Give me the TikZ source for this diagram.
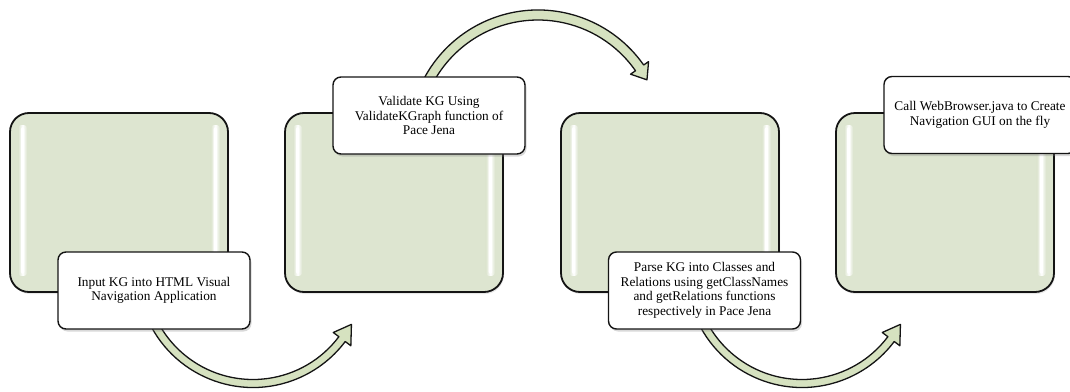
\documentclass[tikz,border=0pt]{standalone}
\usepackage{fontspec}
\setmainfont{Liberation Serif}
\usetikzlibrary{calc,shadows}

\definecolor{panelgreen}{RGB}{221,229,208}
\definecolor{bandgreen}{RGB}{214,226,192}
\definecolor{inkline}{RGB}{20,20,20}

\tikzset{
  panel/.style={draw=inkline, line width=1.8pt, fill=panelgreen, rounded corners=19pt,
    minimum width=218pt, minimum height=179pt, inner sep=0pt,
    drop shadow={shadow xshift=1pt, shadow yshift=-2pt, opacity=0.18}},
  caption/.style={draw=inkline, line width=1.4pt, fill=white, rounded corners=8pt,
    minimum width=192pt, minimum height=77pt, inner sep=2pt, align=center,
    font=\fontsize{13.3pt}{14.6pt}\selectfont,
    drop shadow={shadow xshift=1.5pt, shadow yshift=-2.5pt, opacity=0.3}},
  arrowband/.style={draw=inkline, line width=1.3pt, fill=bandgreen, line join=round},
  shine/.style={left color=panelgreen, right color=panelgreen, middle color=white, rounded corners=3pt},
  shinecore/.style={fill=white, rounded corners=2pt}
}

% glossy vertical highlight inside a panel: #1 = panel node name
\newcommand{\panelshine}[1]{%
  \shade[shine] ($(#1.north west)+(9,13)$) rectangle ($(#1.south west)+(18,-17)$);
  \fill[shinecore] ($(#1.north west)+(11.8,15)$) rectangle ($(#1.south west)+(15.2,-19)$);
  \shade[shine] ($(#1.north east)+(-18,13)$) rectangle ($(#1.south east)+(-9,-17)$);
  \fill[shinecore] ($(#1.north east)+(-15.2,15)$) rectangle ($(#1.south east)+(-11.8,-19)$);}

% curved block arrow: #1 centre, #2 radius, #3 start angle, #4 head base angle,
% #5 tip angle, #6 half band width
\newcommand{\bentarrow}[6]{%
  \draw[arrowband] ($(#1)+(#3:#2+#6)$) arc[start angle=#3, end angle=#4, radius=#2+#6]
    -- ($(#1)+(#4:#2+11)$) -- ($(#1)+(#5:#2)$) -- ($(#1)+(#4:#2-11)$)
    -- ($(#1)+(#4:#2-#6)$) arc[start angle=#4, end angle=#3, radius=#2-#6] -- cycle;}

\begin{document}
\begin{tikzpicture}[x=1pt, y=-1pt]
  \useasboundingbox (0,0) rectangle (1070,391);
  \clip (0,0) rectangle (1070,391);

  % four green panels
  \node[panel] (g1) at (119,202.5) {};
  \node[panel] (g2) at (394,202.5) {};
  \node[panel] (g3) at (670,202.5) {};
  \node[panel] (g4) at (945,202.5) {};
  \panelshine{g1}
  \panelshine{g2}
  \panelshine{g3}
  \panelshine{g4}

  % centres of the curved arrows
  \coordinate (c1) at (253,272);
  \coordinate (c2) at (538,139);
  \coordinate (c3) at (802,272);

  \bentarrow{c1}{111.5}{160}{37}{28}{4}
  \bentarrow{c2}{124}{200}{325}{331.5}{5}
  \bentarrow{c3}{111.5}{160}{37}{28}{4}

  % step captions
  \node[caption] (s1) at (154,290.5) {Input KG into HTML Visual\\Navigation Application};
  \node[caption] (s2) at (429,115.5) {Validate KG Using\\ValidateKGraph function of\\Pace Jena};
  \node[caption] (s3) at (704.5,290.5) {Parse KG into Classes and\\Relations using getClassNames\\and getRelations functions\\respectively in Pace Jena};
  \node[caption] (s4) at (980,115) {Call WebBrowser.java to Create\\Navigation GUI on the fly};
\end{tikzpicture}
\end{document}
